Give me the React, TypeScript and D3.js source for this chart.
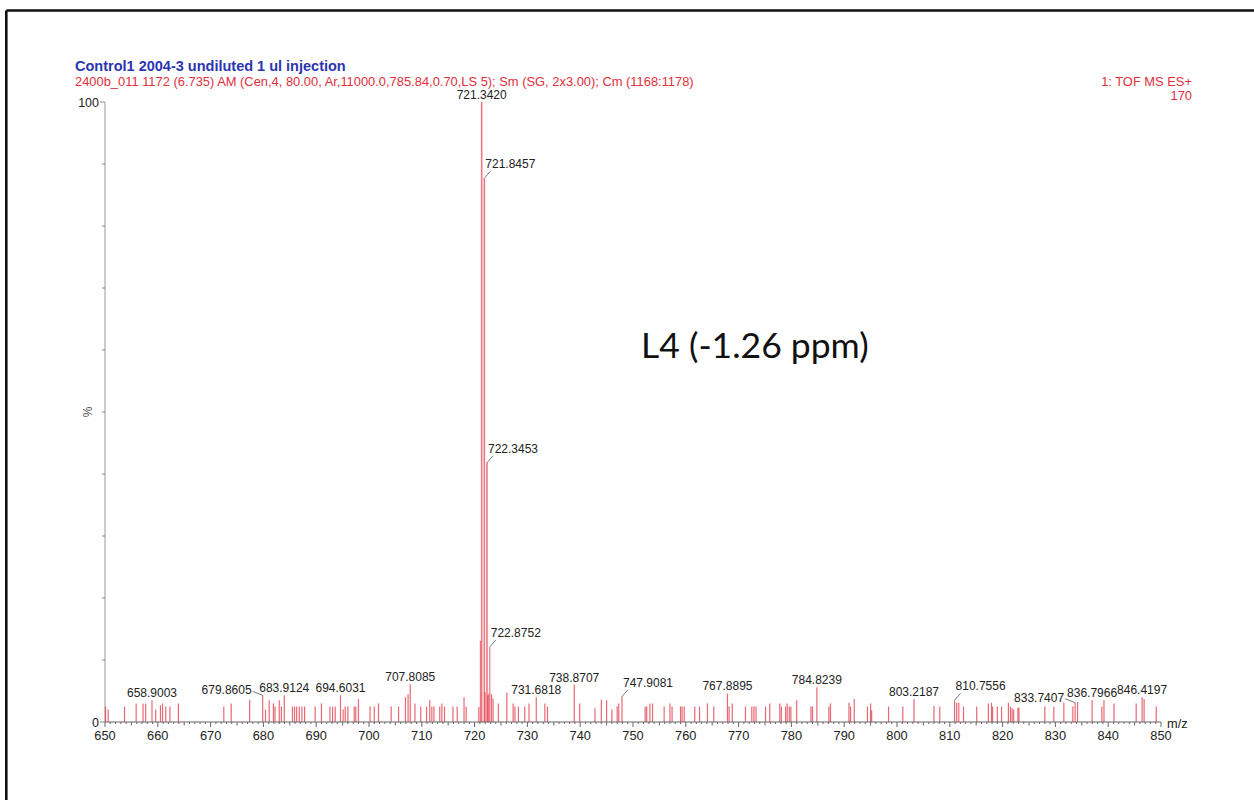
import React from 'react';
import * as d3 from 'd3';

// ---- data ----
const titleLine = 'Control1 2004-3 undiluted 1 ul injection';
const infoLine = '2400b_011 1172 (6.735) AM (Cen,4, 80.00, Ar,11000.0,785.84,0.70,LS 5); Sm (SG, 2x3.00); Cm (1168:1178)';
const instrumentLine = '1: TOF MS ES+';
const intensityLine = '170';
const annotation = 'L4 (-1.26 ppm)';

const peakMz = [
  650.1, 650.6, 653.7, 655.9, 657.2, 657.7, 658.9, 659.6, 660.5, 660.9, 661.5, 662.3, 663.9,
  672.5, 673.9, 677.4, 679.86, 680.4, 681.1, 681.9, 682.2, 683.0, 683.4, 683.95, 685.5, 685.9,
  686.3, 686.8, 687.3, 687.8, 689.8, 691.0, 692.6, 693.1, 693.6, 694.6, 695.1, 695.5, 696.0,
  697.2, 697.5, 698.0, 700.2, 701.0, 701.8, 704.2, 705.6, 706.9, 707.4, 707.81, 708.7, 709.8,
  710.9, 711.5, 711.9, 712.3, 713.4, 713.8, 714.3, 715.9, 716.7, 718.0, 718.4, 720.8, 721.1,
  721.342, 721.8457, 721.97, 722.3453, 722.5, 722.7, 722.8752, 723.2, 723.5, 724.5, 726.1,
  727.3, 727.65, 728.3, 729.5, 730.3, 731.68, 733.3, 733.8, 738.87, 739.9, 742.8, 744.0, 745.0,
  746.0, 747.0, 747.3, 747.91, 752.3, 752.6, 753.2, 753.7, 755.9, 757.0, 757.4, 759.0, 759.3,
  759.7, 761.7, 762.6, 764.1, 765.3, 767.89, 768.2, 768.8, 771.3, 772.5, 772.9, 773.3, 775.1,
  775.9, 777.8, 778.1, 778.9, 779.2, 779.6, 779.9, 781.0, 783.7, 784.0, 784.82, 787.1, 787.4,
  790.9, 791.2, 791.9, 794.4, 795.0, 795.2, 798.4, 801.1, 803.22, 807.0, 808.1, 810.9, 811.3,
  811.7, 812.6, 815.1, 817.3, 817.9, 818.1, 819.0, 819.8, 821.1, 821.5, 821.8, 822.1, 822.9,
  823.1, 828.0, 829.7, 831.6, 833.3, 833.74, 834.2, 836.95, 838.8, 839.2, 841.1, 845.3, 846.42,
  846.8, 849.1,
];
const peakPct = [
  2.5, 2.0, 2.5, 3.0, 3.0, 3.0, 3.5, 2.0, 2.7, 3.0, 2.5, 2.5, 3.0,
  2.5, 3.0, 3.6, 4.3, 2.0, 3.5, 3.0, 2.5, 3.5, 2.5, 4.3, 2.5, 2.5,
  2.5, 2.5, 2.5, 2.5, 2.5, 3.0, 2.5, 2.5, 2.5, 4.3, 2.0, 2.5, 2.5,
  2.5, 2.5, 3.7, 2.5, 2.5, 3.0, 2.5, 2.5, 4.0, 4.5, 6.1, 3.0, 2.5,
  2.5, 3.5, 2.5, 2.5, 2.5, 3.0, 2.5, 2.5, 2.5, 4.0, 2.5, 2.4, 13.1,
  100, 87.7, 4.8, 41.8, 4.3, 4.6, 12.1, 4.5, 3.8, 3.0, 4.7,
  3.0, 2.5, 2.5, 2.5, 3.0, 4.0, 3.0, 2.5, 6.0, 3.0, 2.2, 3.6, 3.5,
  2.0, 2.5, 3.0, 4.1, 2.5, 2.5, 3.0, 3.0, 2.5, 3.0, 2.5, 2.5, 2.5,
  2.5, 2.5, 2.5, 3.0, 2.5, 4.6, 2.5, 3.0, 2.5, 2.5, 2.5, 2.5, 2.5,
  3.0, 3.0, 2.5, 2.5, 3.0, 2.5, 2.5, 3.5, 2.5, 2.5, 5.6, 2.5, 3.0,
  3.1, 2.5, 3.7, 2.5, 3.0, 1.9, 2.5, 2.5, 3.7, 2.6, 2.5, 3.5, 3.1,
  3.1, 2.5, 2.5, 3.0, 3.1, 2.5, 2.5, 2.5, 3.1, 2.5, 2.2, 2.0, 2.3,
  2.3, 2.5, 2.5, 3.1, 2.5, 3.1, 3.2, 3.5, 2.5, 3.5, 3.0, 3.0, 4.0,
  3.7, 2.5,
];

const labelMz = [658.9, 679.86, 683.95, 694.6, 707.81, 721.342, 721.8457, 722.3453, 722.8752,
  731.68, 738.87, 747.91, 767.89, 784.82, 803.22, 810.9, 833.74, 836.95, 846.42];
const labelText = ['658.9003', '679.8605', '683.9124', '694.6031', '707.8085', '721.3420', '721.8457',
  '722.3453', '722.8752', '731.6818', '738.8707', '747.9081', '767.8895', '784.8239', '803.2187',
  '810.7556', '833.7407', '836.7966', '846.4197'];
// 'c' = centred above the peak, 'r' = leader to the right, 'l' = leader to the left
const labelMode = ['c', 'l', 'c', 'c', 'c', 'c', 'r', 'r', 'r', 'c', 'c', 'r', 'c', 'c', 'c', 'r', 'l', 'c', 'c'];

const xDomain = [650, 850];
const xMajorTicks = d3.range(650, 851, 10);
const xMinorTicks = d3.range(650, 851, 1);
const yTicks = d3.range(0, 101, 10);

const W = 1254;
const H = 800;
const FONT = '"Liberation Sans", Arial, sans-serif';

export default function App() {
  const x = d3.scaleLinear().domain(xDomain).range([105, 1161]);
  const y = d3.scaleLinear().domain([0, 100]).range([722, 102]);
  const peaks = peakMz.map((m, i) => ({ m, v: peakPct[i] }));
  const labels = labelMz.map((m, i) => {
    const idx = peakMz.indexOf(m);
    return { m, v: peakPct[idx], t: labelText[i], mode: labelMode[i] };
  });

  return (
    <div style={{ position: 'fixed', left: 0, top: 0, width: W, height: H, background: '#fff' }}>
      <svg width={W} height={H} viewBox={`0 0 ${W} ${H}`} style={{ display: 'block' }}>
        <rect x={0} y={0} width={W} height={H} fill="#fff" />
        {/* slide frame */}
        <line x1={6.3} y1={10.5} x2={W} y2={10.5} stroke="#111" strokeWidth={2.6} />
        <line x1={6.3} y1={10.5} x2={6.3} y2={H} stroke="#111" strokeWidth={2.6} />

        {/* header */}
        <text x={75} y={71} fontFamily={FONT} fontSize={14.5} fontWeight="bold" fill="#2b35b0">{titleLine}</text>
        <text x={75} y={85.5} fontFamily={FONT} fontSize={12.9} fill="#e0303c">{infoLine}</text>
        <text x={1192} y={85.5} fontFamily={FONT} fontSize={12.9} fill="#e0303c" textAnchor="end">{instrumentLine}</text>
        <text x={1192} y={99.5} fontFamily={FONT} fontSize={12.9} fill="#e0303c" textAnchor="end">{intensityLine}</text>

        {/* y axis */}
        <line x1={x(650)} y1={y(0)} x2={x(650)} y2={y(100)} stroke="#999" strokeWidth={1} />
        {yTicks.map((t) => (
          <line key={t} x1={x(650) - (t === 0 || t === 100 ? 5 : 3)} x2={x(650)} y1={y(t)} y2={y(t)} stroke="#888" strokeWidth={1} />
        ))}
        <text x={99} y={y(100) + 4.5} fontFamily={FONT} fontSize={12.5} fill="#222" textAnchor="end">100</text>
        <text x={99} y={y(0) + 4.5} fontFamily={FONT} fontSize={12.5} fill="#222" textAnchor="end">0</text>
        <text x={0} y={0} fontFamily={FONT} fontSize={12} fill="#555" textAnchor="middle"
          transform={`translate(${92},${y(50)}) rotate(-90)`}>%</text>

        {/* peaks */}
        {peaks.map((p, i) => (
          <line key={i} x1={x(p.m)} x2={x(p.m)} y1={y(0)} y2={y(p.v)}
            stroke={p.v > 10 ? '#e8606c' : '#e03545'} strokeOpacity={p.v > 10 ? 0.85 : 0.75}
            strokeWidth={p.v > 30 ? 1.6 : 1.2} />
        ))}

        {/* x axis */}
        <line x1={x(650)} x2={x(850)} y1={y(0)} y2={y(0)} stroke="#666" strokeWidth={1} />
        {xMinorTicks.map((t) => (
          <line key={t} x1={x(t)} x2={x(t)} y1={y(0)} y2={y(0) + (t % 10 === 0 ? 5 : t % 5 === 0 ? 3.5 : 2)} stroke="#666" strokeWidth={1} />
        ))}
        {xMajorTicks.map((t) => (
          <text key={t} x={x(t)} y={739.5} fontFamily={FONT} fontSize={12.8} fill="#222" textAnchor="middle">{t}</text>
        ))}
        <text x={1167} y={728} fontFamily={FONT} fontSize={12.8} fill="#222">m/z</text>

        {/* peak labels */}
        {labels.map((l, i) => {
          const px = x(l.m);
          const py = y(l.v);
          if (l.mode === 'c') {
            return (
              <text key={i} x={px} y={py - 3} fontFamily={FONT} fontSize={12} fill="#222" textAnchor="middle">{l.t}</text>
            );
          }
          if (l.mode === 'r') {
            return (
              <g key={i}>
                <line x1={px} y1={py} x2={px + 6} y2={py - 7} stroke="#555" strokeWidth={0.8} />
                <text x={px + 1} y={py - 10} fontFamily={FONT} fontSize={12} fill="#222">{l.t}</text>
              </g>
            );
          }
          return (
            <g key={i}>
              <line x1={px} y1={py} x2={px - 10} y2={py - 4} stroke="#555" strokeWidth={0.8} />
              <text x={px - 11} y={py - 1} fontFamily={FONT} fontSize={12} fill="#222" textAnchor="end">{l.t}</text>
            </g>
          );
        })}

        {/* annotation */}
        <text x={641} y={358} fontFamily="Lato, 'Open Sans', sans-serif" fontSize={35.5} fill="#111">{annotation}</text>
      </svg>
    </div>
  );
}
